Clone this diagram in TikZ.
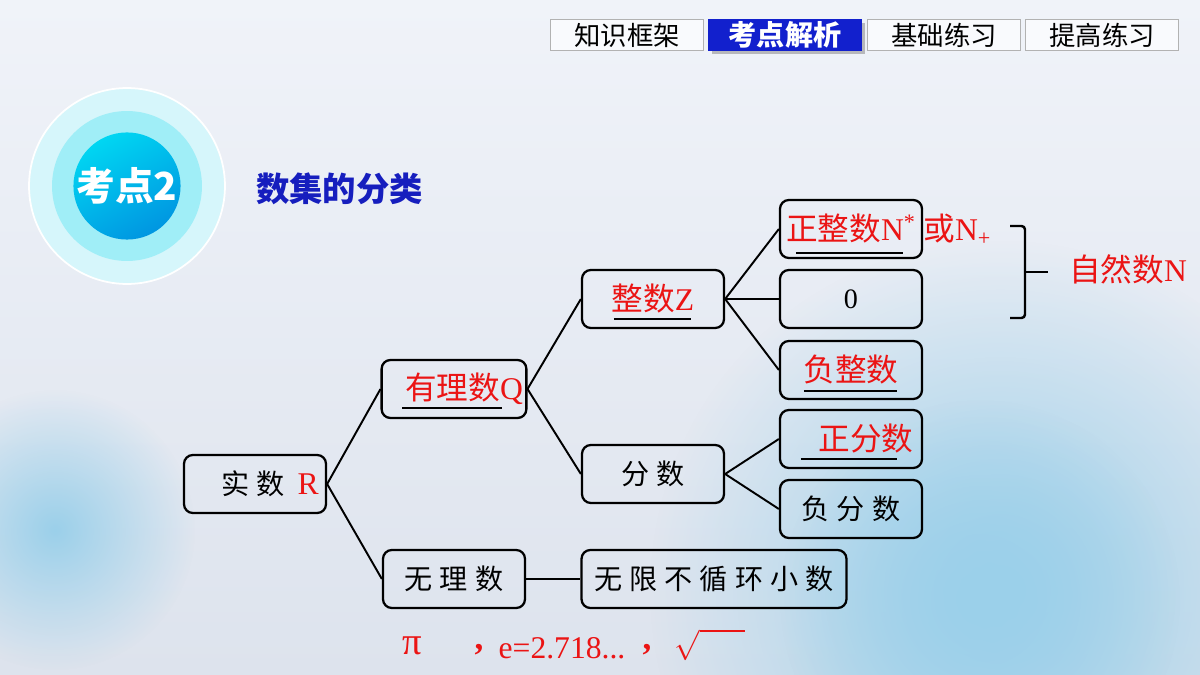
\documentclass[tikz,border=0pt]{standalone}
\usepackage{fontspec}
\setmainfont{Liberation Serif}
\newfontfamily\cjk{Noto Sans CJK SC}
\newfontfamily\cjkwide[LetterSpace=25]{Noto Sans CJK SC}
\usetikzlibrary{positioning, shadows, fadings}
\definecolor{tabblue}{RGB}{18,32,205}
\definecolor{titleblue}{RGB}{22,30,190}
\definecolor{ansred}{RGB}{235,20,20}
\definecolor{bgtop}{RGB}{240,243,249}
\definecolor{bgbot}{RGB}{221,227,237}
\definecolor{blob}{RGB}{155,208,234}
\tikzfading[name=blobfade, inner color=transparent!0, outer color=transparent!100]
\newcommand{\ans}[1]{{\color{ansred}\cjk\fontsize{18}{20}\selectfont #1}}

\begin{document}
\begin{tikzpicture}[
    x=0.02cm, y=-0.02cm,
    numbox/.style={draw=black, line width=1.3pt, rounded corners=5pt, minimum width=2.84cm, minimum height=1.16cm, inner xsep=2pt, font=\cjkwide\fontsize{16}{18}\selectfont},
    redtxt/.style={text=ansred, font=\cjk\fontsize{18}{20}\selectfont},
    tabnode/.style={draw=gray!60, fill=white!60!bgtop, minimum width=3.06cm, minimum height=0.62cm, inner sep=0pt, font=\cjk\fontsize{15}{17}\selectfont},
    branch/.style={line width=1.1pt},
    blank/.style={line width=1.3pt}
]
\useasboundingbox (0,0) rectangle (1200,675);

% Background
\fill[top color=bgtop, bottom color=bgbot] (0,0) rectangle (1200,675);
\fill[blob, path fading=blobfade] (55,530) circle (2.8cm);
\fill[blob, path fading=blobfade] (1000,590) circle (7cm);
\fill[blob, path fading=blobfade] (980,600) circle (4cm);

% Tabs
\node[tabnode] (tabframe) at (627,35) {知识框架};
\node[tabnode, draw=tabblue, fill=tabblue, text=white, font=\cjk\bfseries\fontsize{16}{18}\selectfont,
      drop shadow={shadow xshift=2pt, shadow yshift=-2pt, opacity=0.5}] (tabpoint) at (785,35) {考点解析};
\node[tabnode] (tabbasic) at (944,35) {基础练习};
\node[tabnode] (tabadv) at (1102,35) {提高练习};

% Badge and title
\node[circle, draw=white, line width=1pt, fill={rgb,255:red,214;green,246;blue,251}, minimum size=3.92cm] (halo) at (127,186) {};
\node[circle, fill={rgb,255:red,160;green,238;blue,247}, minimum size=3cm] (ring) at (127,186) {};
\node[circle, top color={rgb,255:red,0;green,214;blue,242}, bottom color={rgb,255:red,0;green,150;blue,225}, shading angle=30,
      minimum size=1.92cm, inner sep=0pt, text=white, font=\cjk\bfseries\fontsize{22}{24}\selectfont] (badge) at (127,186) {考点2};
\node[anchor=west, text=titleblue, font=\cjk\bfseries\fontsize{19}{22}\selectfont] (title) at (250,189) {数集的分类};

% Nodes
\node[numbox] (real) at (255,484) {\hspace*{0.6cm}实数 {\color{ansred}\fontsize{18}{20}\selectfont\rmfamily R}};
\node[numbox] (rational) at (454,389) {\hspace*{0.4cm}\ans{有理数\rmfamily Q}};
\node[numbox] (irrational) at (454,579) {无理数};
\node[numbox] (integer) at (653,299) {\ans{整数\rmfamily Z}};
\node[numbox] (fraction) at (653,474) {分数};
\node[numbox, minimum width=5.3cm] (nonrep) at (714,579) {无限不循环小数};
\node[numbox] (posint) at (851,229) {\ans{正整数\rmfamily N\textsuperscript{*}}};
\node[numbox, font=\rmfamily\fontsize{16}{18}\selectfont] (zero) at (851,299) {0};
\node[numbox] (negint) at (851,370) {\ans{负整数}};
\node[numbox] (posfrac) at (851,439) {\hspace*{0.6cm}\ans{正分数}};
\node[numbox] (negfrac) at (851,509) {负分数};
\node[redtxt, anchor=base west, inner sep=0pt] (orN) at (posint.base east) {或\rmfamily N\textsubscript{+}};
\node[redtxt] (natural) at (1128,269) {自然数\rmfamily N};

% Branches
\draw[branch] (real.east) -- (rational.west);
\draw[branch] (real.east) -- (irrational.west);
\draw[branch] (rational.east) -- (integer.west);
\draw[branch] (rational.east) -- (fraction.west);
\draw[branch] (integer.east) -- (posint.west);
\draw[branch] (integer.east) -- (zero.west);
\draw[branch] (integer.east) -- (negint.west);
\draw[branch] (fraction.east) -- (posfrac.west);
\draw[branch] (fraction.east) -- (negfrac.west);
\draw[branch] (irrational.east) -- (nonrep.west);

% Blanks under the answers
\draw[blank] ([shift={(17,-6)}]posint.south west) -- ++(107,0);
\draw[blank] ([shift={(22,-11)}]rational.south west) -- ++(100,0);
\draw[blank] ([shift={(33,-10)}]integer.south west) -- ++(77,0);
\draw[blank] ([shift={(25,-9)}]negint.south west) -- ++(93,0);
\draw[blank] ([shift={(22,-10)}]posfrac.south west) -- ++(96,0);

% Brace for natural numbers
\coordinate (bracetip) at (1025,272);
\draw[line width=1.4pt, rounded corners=2pt] (1010,226) -- (1025,226) -- (1025,318) -- (1010,318);
\draw[line width=1.4pt] (bracetip) -- ++(23,0);

% Examples of irrational numbers
\node[redtxt, font=\rmfamily\fontsize{22}{24}\selectfont] (pi) at (412,646) {π};
\node[redtxt, font=\rmfamily\bfseries\fontsize{20}{20}\selectfont] (comma1) at (479,650) {,};
\node[redtxt, font=\rmfamily\fontsize{18}{20}\selectfont] (euler) at (562,648) {e=2.718...};
\node[redtxt, font=\rmfamily\bfseries\fontsize{20}{20}\selectfont] (comma2) at (647,650) {,};
\node[redtxt, font=\rmfamily\fontsize{18}{20}\selectfont, anchor=west] (root) at (668,645) {$\sqrt{\vphantom{A}\hspace{0.9cm}}$};

\end{tikzpicture}
\end{document}
